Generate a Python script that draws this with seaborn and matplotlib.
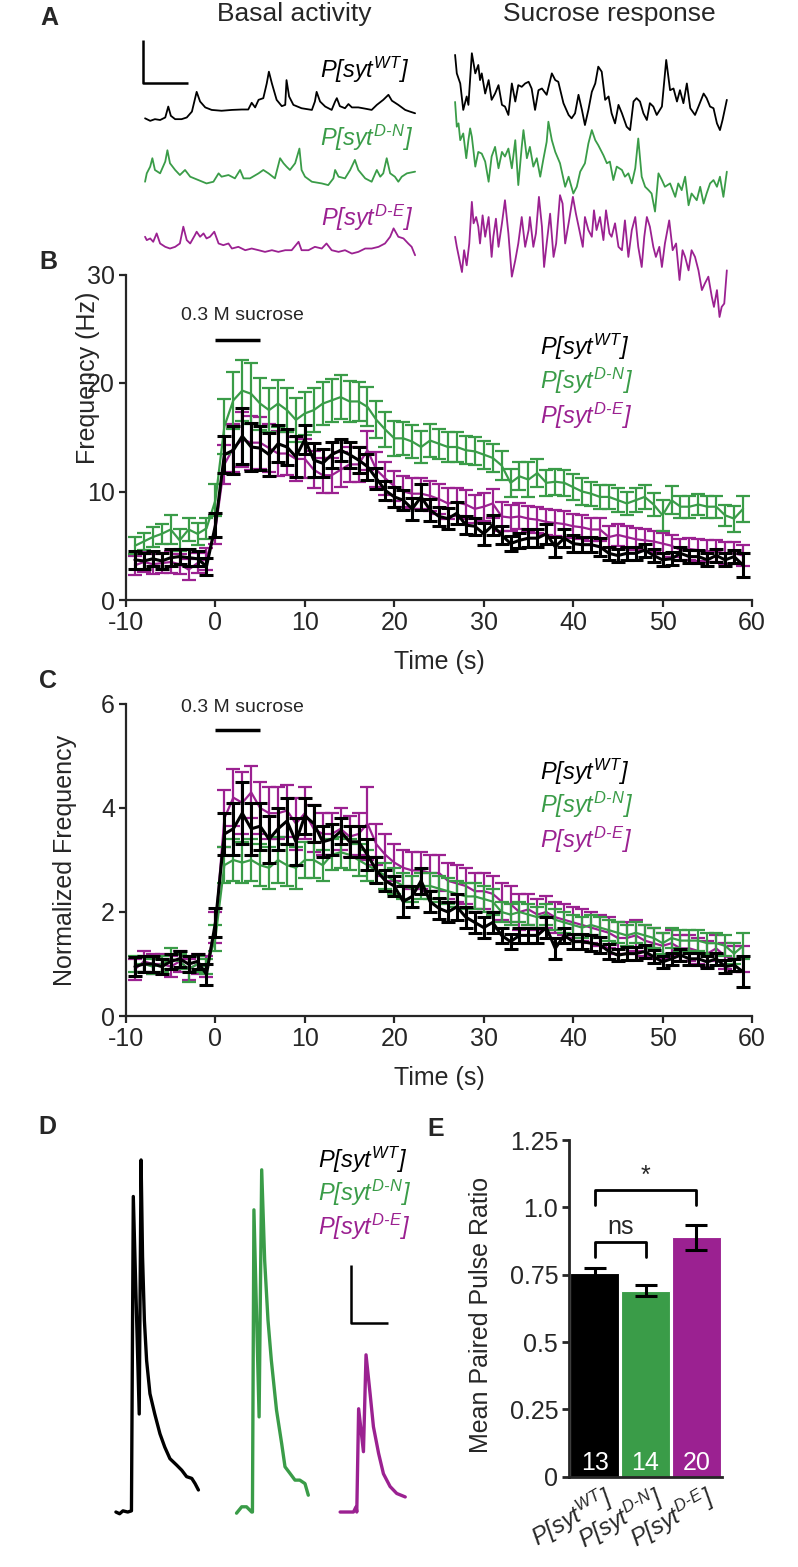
import numpy as np
import pandas as pd
import matplotlib
matplotlib.use('Agg')
import matplotlib.pyplot as plt
import seaborn as sns
from matplotlib.transforms import ScaledTranslation

sns.set_style('ticks')
plt.rcParams['font.family'] = ['Liberation Sans', 'DejaVu Sans']
plt.rcParams['mathtext.fontset'] = 'custom'
plt.rcParams['mathtext.rm'] = 'Liberation Sans:italic'
plt.rcParams['mathtext.it'] = 'Liberation Sans:italic'
plt.rcParams['axes.unicode_minus'] = False

# ---------------- data ----------------
genotypes = ['WT', 'D-N', 'D-E']
labels = {'WT': r'$P[syt^{WT}]$', 'D-N': r'$P[syt^{D‐N}]$', 'D-E': r'$P[syt^{D‐E}]$'}
colors = {'WT': '#000000', 'D-N': '#3a9c48', 'D-E': '#9b2191'}

time_s = list(range(-9, 60))
sucrose_window = (0, 5)

# B: frequency (Hz), mean and sem
freq_wt = [3.7, 3.6, 3.8, 3.6, 3.9, 4.0, 3.9, 3.8, 3.1,
           6.9, 13.4, 13.8, 15.1, 14.1, 14.0, 13.4, 14.4, 14.1, 13.2, 14.8, 12.9, 12.6, 13.4, 13.8,
           13.4, 12.9, 12.3, 11.2, 10.1, 9.5, 9.2, 8.4, 9.5, 8.3,
           7.7, 7.5, 8.0, 6.9, 6.8, 6.1, 6.9, 6.0, 5.2, 5.5, 5.7, 5.7, 6.1, 4.9, 5.7, 5.2, 5.1, 5.1,
           4.9, 4.3, 4.1, 4.3, 4.3, 4.6, 4.1, 3.7, 3.8, 4.3, 4.0, 4.0, 3.7, 4.1, 3.7, 4.0, 3.2]
freq_wt_err = [0.8, 0.7, 0.7, 0.7, 0.8, 0.7, 0.8, 0.7, 0.8,
               1.1, 1.7, 2.2, 2.6, 2.2, 2.0, 2.0, 1.7, 1.7, 1.9, 1.3, 1.6, 1.3, 1.2, 1.0,
               1.2, 1.2, 1.2, 1.0, 0.9, 0.9, 0.9, 1.0, 1.2, 1.0,
               0.9, 1.0, 1.0, 0.8, 0.8, 1.0, 0.9, 0.8, 0.7, 0.7, 0.8, 0.8, 0.9, 0.9, 0.8, 0.8, 0.7, 0.7,
               0.8, 0.6, 0.6, 0.6, 0.6, 0.6, 0.6, 0.6, 0.6, 0.6, 0.6, 0.6, 0.6, 0.6, 0.6, 0.6, 1.1]
freq_dn = [5.0, 5.4, 5.8, 6.1, 6.5, 5.5, 6.5, 6.1, 6.6,
           9.2, 16.0, 18.4, 19.3, 19.0, 18.1, 17.5, 18.1, 17.5, 16.6, 17.2, 17.5, 18.1, 18.4, 18.7,
           18.3, 18.3, 17.8, 16.6, 15.7, 14.9, 14.9, 14.6, 14.1, 14.7,
           14.4, 14.1, 14.1, 13.8, 13.7, 13.4, 13.1, 12.4, 10.8, 11.4, 11.1, 11.7, 10.8, 10.9, 10.8,
           10.4, 10.0, 9.8, 9.5, 9.5, 9.2, 8.9, 9.2, 9.5, 8.8, 7.8, 9.2, 8.6, 8.6, 8.8, 8.6, 8.6,
           7.8, 7.5, 8.4]
freq_dn_err = [0.8, 0.8, 0.9, 0.9, 1.3, 1.0, 1.1, 1.0, 1.0,
               1.5, 2.5, 2.6, 2.8, 2.8, 2.4, 2.0, 2.2, 2.0, 2.0, 2.0, 2.0, 2.0, 2.0, 2.0,
               1.9, 1.8, 1.8, 1.7, 1.6, 1.6, 1.5, 1.5, 1.5, 1.5,
               1.4, 1.4, 1.4, 1.3, 1.3, 1.3, 1.3, 1.3, 1.3, 1.3, 1.6, 1.3, 1.2, 1.2, 1.2, 1.2, 1.2,
               1.1, 1.1, 1.1, 1.1, 1.1, 1.1, 1.1, 1.1, 1.4, 1.3, 1.0, 1.0, 1.0, 1.0, 1.0, 1.0, 1.2, 1.2]
freq_de = [3.2, 3.5, 3.3, 3.4, 3.5, 3.3, 2.8, 3.4, 3.8,
           6.5, 12.5, 14.0, 14.8, 14.5, 14.5, 14.0, 13.5, 13.5, 13.0, 13.0, 12.0, 11.5, 11.5, 12.0,
           12.5, 12.5, 13.8, 12.0, 11.2, 10.5, 10.0, 9.8, 9.8, 9.6,
           9.3, 8.9, 9.0, 8.8, 8.4, 8.6, 8.9, 7.7, 7.6, 7.7, 7.5, 7.4, 7.2, 7.1, 7.0, 6.8, 6.7, 6.5,
           6.5, 5.8, 6.0, 5.8, 5.6, 5.5, 5.4, 5.2, 5.0, 4.6, 4.7, 4.6, 4.5, 4.5, 4.3, 4.3, 4.1]
freq_de_err = [0.9, 0.9, 0.9, 0.9, 1.0, 0.9, 1.0, 0.9, 1.0,
               1.3, 1.8, 2.2, 2.5, 2.5, 2.4, 2.2, 2.1, 2.0, 2.0, 1.8, 1.7, 1.6, 1.6, 1.6,
               1.6, 1.6, 1.8, 1.6, 1.5, 1.4, 1.4, 1.4, 1.4, 1.4,
               1.4, 1.4, 1.3, 1.3, 1.3, 1.3, 1.3, 1.3, 1.2, 1.2, 1.2, 1.2, 1.2, 1.2, 1.2, 1.1, 1.1, 1.1,
               1.1, 1.0, 1.0, 1.0, 1.0, 1.0, 1.0, 1.0, 1.0, 1.0, 1.0, 1.0, 1.0, 1.0, 1.0, 1.0, 1.0]

# C: normalized frequency, mean and sem
norm_wt = [0.95, 1.0, 1.0, 0.95, 1.05, 1.1, 1.0, 1.05, 0.8,
           1.8, 3.5, 3.6, 3.9, 3.6, 3.65, 3.4, 3.6, 3.75, 3.35, 3.85, 3.7, 3.35, 3.4, 3.55,
           3.35, 3.35, 3.1, 2.8, 2.6, 2.5, 2.2, 2.3, 2.6, 2.2,
           2.07, 2.0, 2.1, 1.9, 1.8, 1.7, 1.8, 1.55, 1.43, 1.55, 1.55, 1.55, 1.7, 1.3, 1.55, 1.43,
           1.43, 1.4, 1.37, 1.24, 1.17, 1.2, 1.2, 1.24, 1.14, 1.04, 1.1, 1.17, 1.1, 1.1, 1.04, 1.1,
           0.95, 0.98, 0.85]
norm_wt_err = [0.18, 0.15, 0.15, 0.15, 0.15, 0.15, 0.15, 0.15, 0.2,
               0.28, 0.4, 0.5, 0.6, 0.5, 0.45, 0.45, 0.4, 0.45, 0.45, 0.35, 0.35, 0.3, 0.3, 0.25,
               0.3, 0.3, 0.3, 0.25, 0.2, 0.2, 0.3, 0.2, 0.25, 0.2,
               0.2, 0.2, 0.25, 0.2, 0.2, 0.2, 0.2, 0.15, 0.15, 0.15, 0.15, 0.15, 0.2, 0.2, 0.15,
               0.15, 0.15, 0.15, 0.15, 0.15, 0.12, 0.12, 0.12, 0.12, 0.12, 0.12, 0.12, 0.12, 0.12,
               0.12, 0.12, 0.12, 0.12, 0.12, 0.3]
norm_dn = [1.0, 1.0, 0.95, 1.0, 1.1, 1.05, 0.9, 1.0, 0.95,
           1.5, 2.9, 3.0, 2.95, 3.0, 2.9, 2.85, 3.0, 2.9, 2.85, 3.0, 3.0, 2.9, 3.1, 3.15,
           3.1, 3.0, 2.9, 2.8, 2.7, 2.6, 2.5, 2.45, 2.5, 2.5,
           2.45, 2.4, 2.35, 2.3, 2.3, 2.25, 2.2, 2.0, 1.95, 2.0, 1.95, 1.9, 1.95, 1.85, 1.8,
           1.75, 1.7, 1.75, 1.7, 1.65, 1.6, 1.55, 1.6, 1.55, 1.5, 1.4, 1.5, 1.45, 1.45, 1.45,
           1.4, 1.4, 1.35, 1.2, 1.35]
norm_dn_err = [0.15, 0.15, 0.15, 0.15, 0.2, 0.15, 0.25, 0.15, 0.15,
               0.25, 0.35, 0.4, 0.4, 0.4, 0.4, 0.4, 0.45, 0.4, 0.4, 0.35, 0.35, 0.3, 0.3, 0.3,
               0.3, 0.3, 0.3, 0.25, 0.25, 0.25, 0.25, 0.25, 0.25, 0.25,
               0.25, 0.25, 0.25, 0.25, 0.25, 0.25, 0.25, 0.2, 0.2, 0.2, 0.2, 0.2, 0.2, 0.2, 0.2,
               0.2, 0.2, 0.2, 0.2, 0.2, 0.2, 0.2, 0.2, 0.2, 0.2, 0.2, 0.2, 0.2, 0.2, 0.2,
               0.2, 0.2, 0.2, 0.2, 0.25]
norm_de = [0.9, 1.05, 1.0, 1.0, 0.95, 1.05, 0.9, 1.0, 0.95,
           1.7, 3.8, 4.2, 4.1, 4.3, 4.0, 3.9, 3.9, 3.95, 3.7, 3.9, 3.6, 3.5, 3.5, 3.6,
           3.45, 3.5, 3.7, 3.3, 3.1, 2.95, 2.85, 2.8, 2.8, 2.75,
           2.75, 2.6, 2.55, 2.5, 2.4, 2.4, 2.35, 2.2, 2.15, 2.0, 2.05, 1.95, 2.0, 1.9, 1.85,
           1.8, 1.75, 1.7, 1.65, 1.6, 1.5, 1.5, 1.55, 1.45, 1.4, 1.35, 1.4, 1.3, 1.3, 1.25,
           1.2, 1.3, 1.15, 1.1, 1.1]
norm_de_err = [0.2, 0.2, 0.2, 0.2, 0.2, 0.2, 0.2, 0.2, 0.2,
               0.3, 0.55, 0.55, 0.6, 0.5, 0.5, 0.5, 0.5, 0.5, 0.5, 0.5, 0.45, 0.4, 0.4, 0.4,
               0.4, 0.4, 0.7, 0.4, 0.4, 0.35, 0.35, 0.35, 0.35, 0.35,
               0.35, 0.35, 0.35, 0.35, 0.35, 0.35, 0.35, 0.35, 0.35, 0.35, 0.3, 0.3, 0.3, 0.3, 0.3,
               0.3, 0.3, 0.3, 0.3, 0.3, 0.3, 0.3, 0.3, 0.3, 0.3, 0.25, 0.25, 0.25, 0.25, 0.25,
               0.25, 0.25, 0.25, 0.25, 0.25]

# A: example traces (time in scale-bar units, amplitude in scale-bar units)
basal_wt = [(0.00, 0.04), (0.12, -0.02), (0.23, 0.02), (0.35, 0.00), (0.47, 0.06), (0.54, 0.32),
            (0.60, 0.10), (0.70, 0.02), (0.85, 0.02), (0.97, 0.06), (1.09, 0.20), (1.20, 0.67),
            (1.28, 0.44), (1.40, 0.30), (1.55, 0.24), (1.78, 0.22), (2.02, 0.24), (2.25, 0.25),
            (2.40, 0.25), (2.48, 0.41), (2.56, 0.30), (2.64, 0.48), (2.75, 0.52), (2.83, 0.87),
            (2.88, 1.15), (2.95, 0.87), (3.06, 0.48), (3.18, 0.33), (3.26, 0.36), (3.29, 0.95),
            (3.35, 0.56), (3.45, 0.36), (3.64, 0.28), (3.88, 0.24), (3.95, 0.44), (3.99, 0.67),
            (4.07, 0.44), (4.19, 0.32), (4.34, 0.24), (4.42, 0.44), (4.46, 0.52), (4.53, 0.33),
            (4.65, 0.28), (4.73, 0.38), (4.81, 0.30), (4.96, 0.30), (5.12, 0.27), (5.27, 0.24),
            (5.39, 0.36), (5.54, 0.48), (5.66, 0.60), (5.74, 0.46), (5.89, 0.36), (6.05, 0.24),
            (6.16, 0.20), (6.28, 0.16)]
basal_dn = [(0.00, 0.00), (0.04, 0.20), (0.12, 0.36), (0.17, 0.56), (0.23, 0.28), (0.35, 0.20),
            (0.47, 0.48), (0.52, 0.75), (0.58, 0.44), (0.70, 0.28), (0.81, 0.16), (0.93, 0.28),
            (1.05, 0.12), (1.24, 0.04), (1.43, -0.04), (1.59, 0.00), (1.71, 0.20), (1.78, 0.12),
            (1.94, 0.16), (2.09, 0.08), (2.21, 0.28), (2.29, 0.08), (2.44, 0.08), (2.64, 0.20),
            (2.75, 0.28), (2.87, 0.20), (3.02, 0.08), (3.14, 0.56), (3.22, 0.44), (3.29, 0.36),
            (3.37, 0.28), (3.49, 0.44), (3.59, 0.79), (3.64, 0.28), (3.72, 0.12), (3.88, 0.00),
            (4.11, -0.04), (4.26, -0.08), (4.38, 0.08), (4.42, 0.28), (4.50, 0.12), (4.65, 0.08),
            (4.77, 0.28), (4.88, 0.52), (4.96, 0.28), (5.12, 0.08), (5.27, 0.00), (5.39, 0.28),
            (5.47, 0.12), (5.54, 0.20), (5.62, 0.56), (5.70, 0.20), (5.81, 0.12), (5.89, 0.00),
            (5.97, 0.12), (6.09, 0.20), (6.28, 0.24)]
basal_de = [(0.00, 0.24), (0.04, 0.16), (0.12, 0.20), (0.19, 0.12), (0.27, 0.32), (0.35, 0.08),
            (0.47, 0.00), (0.58, -0.04), (0.70, 0.00), (0.81, 0.08), (0.89, 0.48), (0.97, 0.16),
            (1.05, 0.08), (1.16, 0.28), (1.20, 0.36), (1.28, 0.24), (1.36, 0.32), (1.43, 0.20),
            (1.51, 0.24), (1.61, 0.36), (1.71, 0.08), (1.82, 0.04), (1.94, 0.08), (2.02, -0.04),
            (2.17, 0.00), (2.33, -0.08), (2.48, -0.04), (2.64, -0.08), (2.79, -0.12), (2.95, -0.08),
            (3.10, -0.12), (3.26, -0.08), (3.41, -0.08), (3.57, 0.12), (3.64, -0.08), (3.80, -0.08),
            (3.95, 0.00), (4.11, -0.04), (4.22, 0.08), (4.34, -0.08), (4.50, -0.12), (4.65, -0.08),
            (4.81, -0.16), (4.96, -0.12), (5.12, -0.04), (5.27, -0.04), (5.43, 0.00), (5.58, 0.08),
            (5.70, 0.24), (5.78, 0.44), (5.89, 0.24), (6.01, 0.20), (6.12, 0.08), (6.20, 0.00),
            (6.28, -0.20)]
sucrose_wt = [(0.00, 1.55), (0.04, 1.11), (0.12, 0.87), (0.19, 0.24), (0.27, 0.56), (0.31, 0.36),
              (0.39, 1.59), (0.47, 1.11), (0.54, 1.31), (0.58, 0.95), (0.62, 1.11), (0.70, 0.63),
              (0.78, 0.95), (0.85, 0.48), (0.93, 0.63), (1.01, 0.83), (1.09, 0.36), (1.16, 0.32),
              (1.24, 0.12), (1.32, 0.87), (1.40, 0.44), (1.47, 0.83), (1.55, 0.79), (1.63, 0.87),
              (1.71, 0.91), (1.78, 0.75), (1.86, 0.24), (1.94, 0.71), (2.02, 0.75), (2.13, 0.60),
              (2.25, 1.11), (2.33, 0.95), (2.40, 0.91), (2.52, 0.40), (2.64, 0.12), (2.71, 0.04),
              (2.79, 0.16), (2.87, 0.60), (2.95, 0.24), (3.02, -0.12), (3.10, 0.24), (3.18, 0.67),
              (3.26, 0.87), (3.33, 1.27), (3.41, 1.15), (3.49, 0.48), (3.57, 0.56), (3.64, 0.16),
              (3.72, -0.08), (3.80, 0.36), (3.88, 0.16), (3.99, -0.16), (4.07, -0.24), (4.15, 0.44),
              (4.22, 0.52), (4.30, 0.44), (4.38, 0.16), (4.46, 0.00), (4.53, 0.40), (4.61, 0.32),
              (4.69, 0.12), (4.81, 0.32), (4.91, 1.43), (5.00, 0.71), (5.08, 0.75), (5.16, 0.44),
              (5.23, 0.71), (5.31, 0.40), (5.39, 0.87), (5.47, 0.28), (5.58, 0.12), (5.66, 0.32),
              (5.78, 0.63), (5.85, 0.52), (5.93, 0.32), (6.01, 0.28), (6.09, -0.08), (6.16, -0.24),
              (6.22, 0.00), (6.32, 0.48)]
sucrose_dn = [(0.00, 1.90), (0.04, 1.31), (0.08, 1.39), (0.12, 0.99), (0.19, 1.15), (0.26, 0.56),
              (0.31, 0.99), (0.35, 1.27), (0.39, 1.07), (0.47, 0.36), (0.54, 0.71), (0.62, 0.67),
              (0.70, 0.48), (0.78, 0.00), (0.85, 0.60), (0.93, 0.83), (1.01, 0.32), (1.09, 0.71),
              (1.16, 0.60), (1.24, 0.79), (1.32, 0.32), (1.40, 0.99), (1.47, -0.08), (1.55, 0.83),
              (1.59, 1.23), (1.67, 0.56), (1.74, 0.83), (1.82, 0.36), (1.90, 0.56), (1.98, 0.12),
              (2.05, 0.52), (2.13, 0.95), (2.17, 1.43), (2.25, 0.99), (2.33, 0.71), (2.44, 0.44),
              (2.56, -0.12), (2.64, 0.12), (2.75, -0.28), (2.83, -0.12), (2.91, 0.24), (3.02, 0.44),
              (3.10, 0.91), (3.18, 1.23), (3.26, 0.99), (3.33, 0.87), (3.45, 0.63), (3.53, 0.44),
              (3.60, 0.48), (3.68, 0.04), (3.76, 0.36), (3.88, 0.28), (3.95, 0.12), (4.03, 0.20),
              (4.11, -0.04), (4.19, 0.32), (4.26, 1.03), (4.34, 0.12), (4.42, -0.12), (4.50, -0.20),
              (4.57, -0.28), (4.65, -0.71), (4.73, 0.20), (4.81, 0.04), (4.88, -0.12), (5.00, -0.04),
              (5.12, -0.36), (5.19, -0.04), (5.27, -0.20), (5.35, 0.12), (5.43, -0.56), (5.50, -0.28),
              (5.62, -0.44), (5.70, -0.12), (5.78, -0.52), (5.85, -0.28), (5.93, -0.04), (6.01, 0.04),
              (6.09, -0.12), (6.16, 0.12), (6.24, -0.36), (6.32, 0.24)]
sucrose_de = [(0.00, 0.24), (0.04, 0.00), (0.12, -0.40), (0.16, -0.60), (0.21, -0.08), (0.27, -0.44),
              (0.33, 0.08), (0.39, 1.07), (0.43, 0.56), (0.49, 0.71), (0.54, 0.48), (0.58, 0.08),
              (0.64, 0.75), (0.70, 0.24), (0.78, 0.71), (0.85, -0.24), (0.89, 0.24), (0.95, 0.67),
              (1.01, 0.00), (1.09, 0.56), (1.16, 1.11), (1.24, 0.32), (1.32, -0.71), (1.40, -0.32),
              (1.47, 0.08), (1.55, 0.71), (1.63, 0.00), (1.71, 0.40), (1.74, 0.71), (1.82, 0.00),
              (1.88, 0.32), (1.95, 1.19), (2.02, 0.48), (2.07, -0.48), (2.13, 0.08), (2.21, 0.79),
              (2.29, -0.24), (2.35, 0.08), (2.44, 1.23), (2.50, 1.03), (2.56, 0.08), (2.64, 0.56),
              (2.74, 1.19), (2.81, 0.79), (2.89, 0.40), (2.97, 0.00), (3.02, 0.71), (3.10, 0.40),
              (3.18, 0.24), (3.23, 0.87), (3.29, 0.40), (3.37, 0.71), (3.45, 0.16), (3.51, 0.87),
              (3.59, 0.32), (3.64, 0.24), (3.72, 0.56), (3.80, 0.00), (3.88, -0.08), (3.95, 0.63),
              (4.03, -0.24), (4.11, 0.40), (4.19, 0.71), (4.26, 0.00), (4.34, -0.48), (4.40, 0.24),
              (4.46, 0.71), (4.53, 0.48), (4.61, 0.00), (4.67, -0.24), (4.75, 0.00), (4.81, -0.48),
              (4.88, 0.08), (4.98, 0.63), (5.06, -0.08), (5.14, 0.08), (5.22, -0.79), (5.29, -0.08),
              (5.35, -0.24), (5.43, -0.56), (5.50, -0.08), (5.58, -0.24), (5.66, -0.56), (5.74, -1.03),
              (5.81, -0.87), (5.89, -0.71), (5.97, -1.19), (6.02, -1.43), (6.09, -1.03), (6.15, -1.67),
              (6.20, -1.43), (6.26, -1.35), (6.32, -0.56)]

# D: paired-pulse example traces (scale-bar units)
pp_trace_wt = [(0.00, 0.00), (0.10, -0.03), (0.19, 0.02), (0.32, 0.00), (0.42, 0.02), (0.47, 5.44),
               (0.63, 1.69), (0.68, 6.07), (0.72, 4.40), (0.77, 3.30), (0.83, 2.61), (0.92, 2.04),
               (1.05, 1.69), (1.19, 1.35), (1.32, 1.12), (1.46, 0.92), (1.64, 0.81), (1.78, 0.72),
               (1.91, 0.61), (2.05, 0.58), (2.14, 0.49), (2.23, 0.38)]
pp_trace_dn = [(0.00, -0.02), (0.14, 0.09), (0.27, 0.09), (0.41, 0.00), (0.43, 0.00), (0.47, 5.21),
               (0.61, 1.64), (0.68, 5.90), (0.76, 4.34), (0.85, 3.31), (0.94, 2.62), (1.08, 1.76),
               (1.22, 1.18), (1.31, 0.78), (1.44, 0.67), (1.58, 0.55), (1.71, 0.55), (1.85, 0.49),
               (1.94, 0.29)]
pp_trace_de = [(0.00, 0.00), (0.36, 0.00), (0.43, 0.09), (0.45, 0.00), (0.50, 1.78), (0.63, 1.04),
               (0.70, 2.71), (0.81, 2.04), (0.90, 1.47), (1.04, 1.01), (1.17, 0.66), (1.35, 0.44),
               (1.53, 0.32), (1.76, 0.26)]

# E: mean paired pulse ratio
ppr_mean = [0.757, 0.691, 0.889]
ppr_sem = [0.016, 0.022, 0.047]
ppr_n = [13, 14, 20]

# ---------------- layout helpers ----------------
W, H = 798, 1567
fig = plt.figure(figsize=(W / 100, H / 100), dpi=100)


def rect(x0, y0, x1, y1):
    return [x0 / W, 1 - y1 / H, (x1 - x0) / W, (y1 - y0) / H]


def fpos(x, y):
    return x / W, 1 - y / H


def draw_trace(ax, pairs, x0, y0, color, lw):
    t = np.array([p[0] for p in pairs])
    v = np.array([p[1] for p in pairs])
    sns.lineplot(x=t + x0, y=v + y0, ax=ax, color=color, linewidth=lw,
                 estimator=None, sort=False, legend=False)


# panel letters
for letter, (x, y) in zip('ABCDE', [(49, 18), (48, 262), (48, 681), (47, 1127), (436, 1129)]):
    fig.text(*fpos(x, y), letter, fontsize=18, fontweight='bold', ha='center', va='center')


# ---------------- B and C ----------------
def timecourse(ax, means, errs, ylim, yticks, ylabel, ylab_xy, leg_y, bar_y, text_y, xlab_y):
    df = pd.DataFrame({'time': np.tile(time_s, 3),
                       'value': np.concatenate([means[g] for g in genotypes]),
                       'err': np.concatenate([errs[g] for g in genotypes]),
                       'genotype': np.repeat(genotypes, len(time_s))})
    for g in ['D-E', 'D-N', 'WT']:
        sub = df[df['genotype'] == g]
        lw = 2.2 if g == 'WT' else 1.6
        z = 4 if g == 'WT' else (3 if g == 'D-N' else 2)
        ax.errorbar(sub['time'], sub['value'], yerr=sub['err'], fmt='none', ecolor=colors[g],
                    elinewidth=lw, capsize=5, capthick=lw, zorder=z)
        sns.lineplot(data=sub, x='time', y='value', ax=ax, color=colors[g], linewidth=lw,
                     estimator=None, sort=False, legend=False, zorder=z)
    ax.set_xlim(-10, 60)
    ax.set_ylim(*ylim)
    ax.set_xticks(range(-10, 61, 10))
    ax.set_yticks(yticks)
    sns.despine(ax=ax)
    for s in ['left', 'bottom']:
        ax.spines[s].set_linewidth(1.6)
    ax.tick_params(direction='out', length=5, width=1.6, labelsize=18, pad=3)
    ax.set_xlabel('Time (s)', fontsize=18)
    ax.xaxis.set_label_coords(0.5, xlab_y)
    ax.set_ylabel(ylabel, fontsize=18)
    ax.yaxis.set_label_coords(*ylab_xy)
    ax.plot(sucrose_window, [bar_y, bar_y], color='k', lw=2.5, solid_capstyle='butt', clip_on=False)
    ax.text(3.0, text_y, '0.3 M sucrose', fontsize=14, ha='center', va='center', clip_on=False)
    for g, y in zip(genotypes, leg_y):
        ax.text(36.3, y, labels[g], fontsize=17, color=colors[g], ha='left', va='center')


axB = fig.add_axes(rect(126, 274.5, 752, 600))
timecourse(axB, {'WT': freq_wt, 'D-N': freq_dn, 'D-E': freq_de},
           {'WT': freq_wt_err, 'D-N': freq_dn_err, 'D-E': freq_de_err},
           (0, 30), [0, 10, 20, 30], 'Frequency (Hz)', (-0.042, 0.682),
           [23.3, 20.2, 17.0], 24.0, 26.2, -0.154)

axC = fig.add_axes(rect(126, 704, 752, 1016))
timecourse(axC, {'WT': norm_wt, 'D-N': norm_dn, 'D-E': norm_de},
           {'WT': norm_wt_err, 'D-N': norm_dn_err, 'D-E': norm_de_err},
           (0, 6), [0, 2, 4, 6], 'Normalized Frequency', (-0.078, 0.5),
           [4.69, 4.06, 3.38], 5.5, 5.94, -0.16)

# ---------------- A (drawn above B so the long traces overlap it) ----------------
axA = fig.add_axes(rect(130, 30, 745, 330))
axA.set_zorder(10)
axA.set_xlim(0, 615 / 43)
axA.set_ylim(0, 300 / 42)
axA.axis('off')
row_base = {'WT': 5.0, 'D-N': 3.53, 'D-E': 1.98}
basal = {'WT': basal_wt, 'D-N': basal_dn, 'D-E': basal_de}
sucrose = {'WT': sucrose_wt, 'D-N': sucrose_dn, 'D-E': sucrose_de}
for g in genotypes:
    draw_trace(axA, basal[g], 0.35, row_base[g], colors[g], 1.3)
    draw_trace(axA, sucrose[g], 7.56, row_base[g], colors[g], 1.3)
axA.plot([0.31, 0.31, 1.36], [6.9, 5.89, 5.89], color='k', lw=1.8, solid_capstyle='butt')
fig.text(*fpos(294, 14), 'Basal activity', fontsize=19, ha='center', va='center')
fig.text(*fpos(609, 14), 'Sucrose response', fontsize=19, ha='center', va='center')
for g, (x, y) in zip(genotypes, [(409, 70), (413, 138), (413, 218)]):
    fig.text(*fpos(x, y), labels[g], fontsize=17, color=colors[g], ha='right', va='center')

# ---------------- D ----------------
axD = fig.add_axes(rect(100, 1140, 420, 1530))
axD.set_xlim(0, 320 / 37)
axD.set_ylim(0, 390 / 58)
axD.axis('off')
pp_traces = {'WT': pp_trace_wt, 'D-N': pp_trace_dn, 'D-E': pp_trace_de}
pp_x0 = {'WT': 0.43, 'D-N': 3.69, 'D-E': 6.49}
for g in genotypes:
    draw_trace(axD, pp_traces[g], pp_x0[g], 0.31, colors[g], 2.4)
axD.plot([6.78, 6.78, 7.78], [4.57, 3.57, 3.57], color='k', lw=1.8, solid_capstyle='butt')
for g, y in zip(genotypes, [1160, 1193, 1227]):
    fig.text(*fpos(318, y), labels[g], fontsize=17, color=colors[g], ha='left', va='center')

# ---------------- E ----------------
axE = fig.add_axes(rect(569.3, 1140, 721.7, 1476.7))
sns.barplot(x=genotypes, y=ppr_mean, hue=genotypes, palette=colors, width=0.97, ax=axE,
            legend=False, saturation=1, edgecolor='white', linewidth=0.8)
axE.errorbar(range(3), ppr_mean, yerr=ppr_sem, fmt='none', ecolor='k', elinewidth=2.2,
             capsize=8, capthick=2.2, zorder=5)
axE.set_xlim(-0.5, 2.5)
axE.set_ylim(0, 1.25)
axE.set_yticks([0, 0.25, 0.5, 0.75, 1.0, 1.25])
axE.set_yticklabels(['0', '0.25', '0.5', '0.75', '1.0', '1.25'])
sns.despine(ax=axE)
for s in ['left', 'bottom']:
    axE.spines[s].set_linewidth(2)
axE.tick_params(axis='y', direction='out', length=5, width=2, labelsize=18, pad=3)
axE.tick_params(axis='x', length=0, pad=4)
axE.set_xticks(range(3))
axE.set_xticklabels([labels[g] for g in genotypes], rotation=30, ha='right',
                    rotation_mode='anchor', fontsize=17)
offset = ScaledTranslation(6 / 72, 0, fig.dpi_scale_trans)
for lbl in axE.get_xticklabels():
    lbl.set_transform(lbl.get_transform() + offset)
axE.set_xlabel('')
axE.set_ylabel('Mean Paired Pulse Ratio', fontsize=18)
axE.yaxis.set_label_coords(-0.5, 0.48)
for i, n in enumerate(ppr_n):
    axE.text(i, 0.05, str(n), color='white', ha='center', va='center', fontsize=18)
comparisons = [(0, 1, 0.873, 'ns'), (0, 2, 1.065, '*')]
for a, b, y, txt in comparisons:
    axE.plot([a, a, b, b], [y - 0.056, y, y, y - 0.056], color='k', lw=2, clip_on=False)
    axE.text((a + b) / 2, y + 0.008, txt, ha='center', va='bottom', fontsize=18)

fig.savefig('out.png', dpi=100)
